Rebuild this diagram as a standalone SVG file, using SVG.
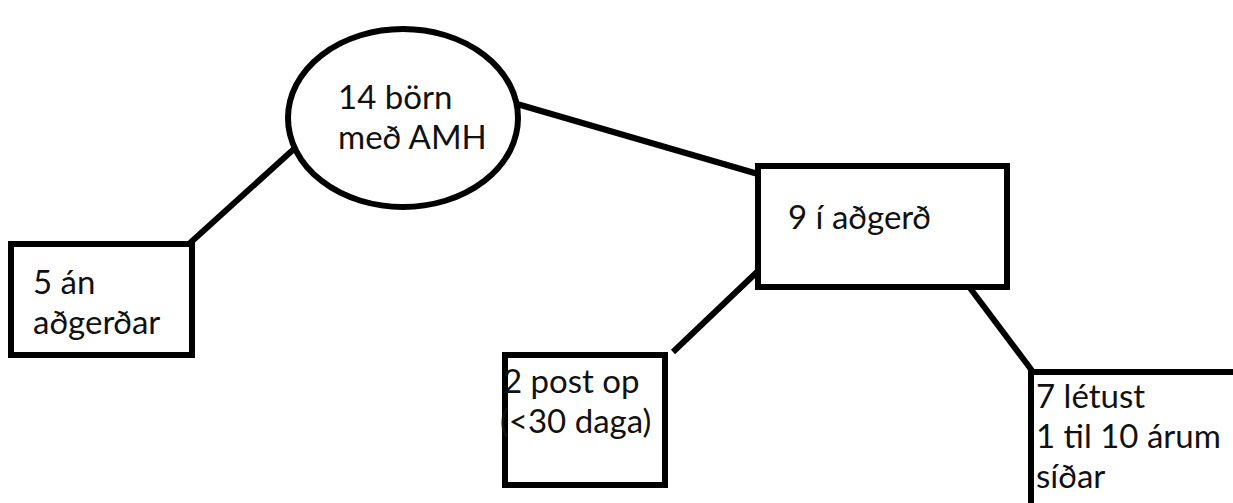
<svg xmlns="http://www.w3.org/2000/svg" width="1233" height="503" viewBox="0 0 1233 503">
  <style>
    .shape { fill: #ffffff; stroke: #000000; stroke-width: 6; }
    .conn { stroke: #000000; stroke-width: 6; fill: none; }
    .lbl { font-family: Lato, "Open Sans", "Liberation Sans", sans-serif; font-size: 33px; fill: #111111; }
  </style>
  <rect width="1233" height="503" fill="#ffffff"/>
  <g id="connectors">
    <line class="conn" x1="295" y1="148" x2="190" y2="243"/>
    <line class="conn" x1="517" y1="104" x2="758" y2="174"/>
    <line class="conn" x1="757" y1="272" x2="673" y2="352"/>
    <line class="conn" x1="970" y1="288" x2="1033" y2="372"/>
  </g>
  <g id="node-root">
    <ellipse class="shape" cx="403" cy="118" rx="115" ry="89"/>
    <text class="lbl" x="338" y="109">14 börn</text>
    <text class="lbl" x="338" y="149">með AMH</text>
  </g>
  <g id="node-no-surgery">
    <rect class="shape" x="11" y="244" width="181" height="111"/>
    <text class="lbl" x="33" y="294">5 án</text>
    <text class="lbl" x="33" y="334">aðgerðar</text>
  </g>
  <g id="node-surgery">
    <rect class="shape" x="758" y="166" width="249" height="121"/>
    <text class="lbl" x="788" y="229">9 í aðgerð</text>
  </g>
  <g id="node-postop">
    <rect class="shape" x="505" y="355" width="160" height="130"/>
    <text class="lbl" x="503" y="393">2 post op</text>
    <text class="lbl" x="500" y="433">(&lt;30 daga)</text>
  </g>
  <g id="node-died">
    <rect class="shape" x="1031" y="372" width="300" height="200"/>
    <text class="lbl" x="1036" y="408">7 létust</text>
    <text class="lbl" x="1036" y="448">1 til 10 árum</text>
    <text class="lbl" x="1036" y="488">síðar</text>
  </g>
</svg>
